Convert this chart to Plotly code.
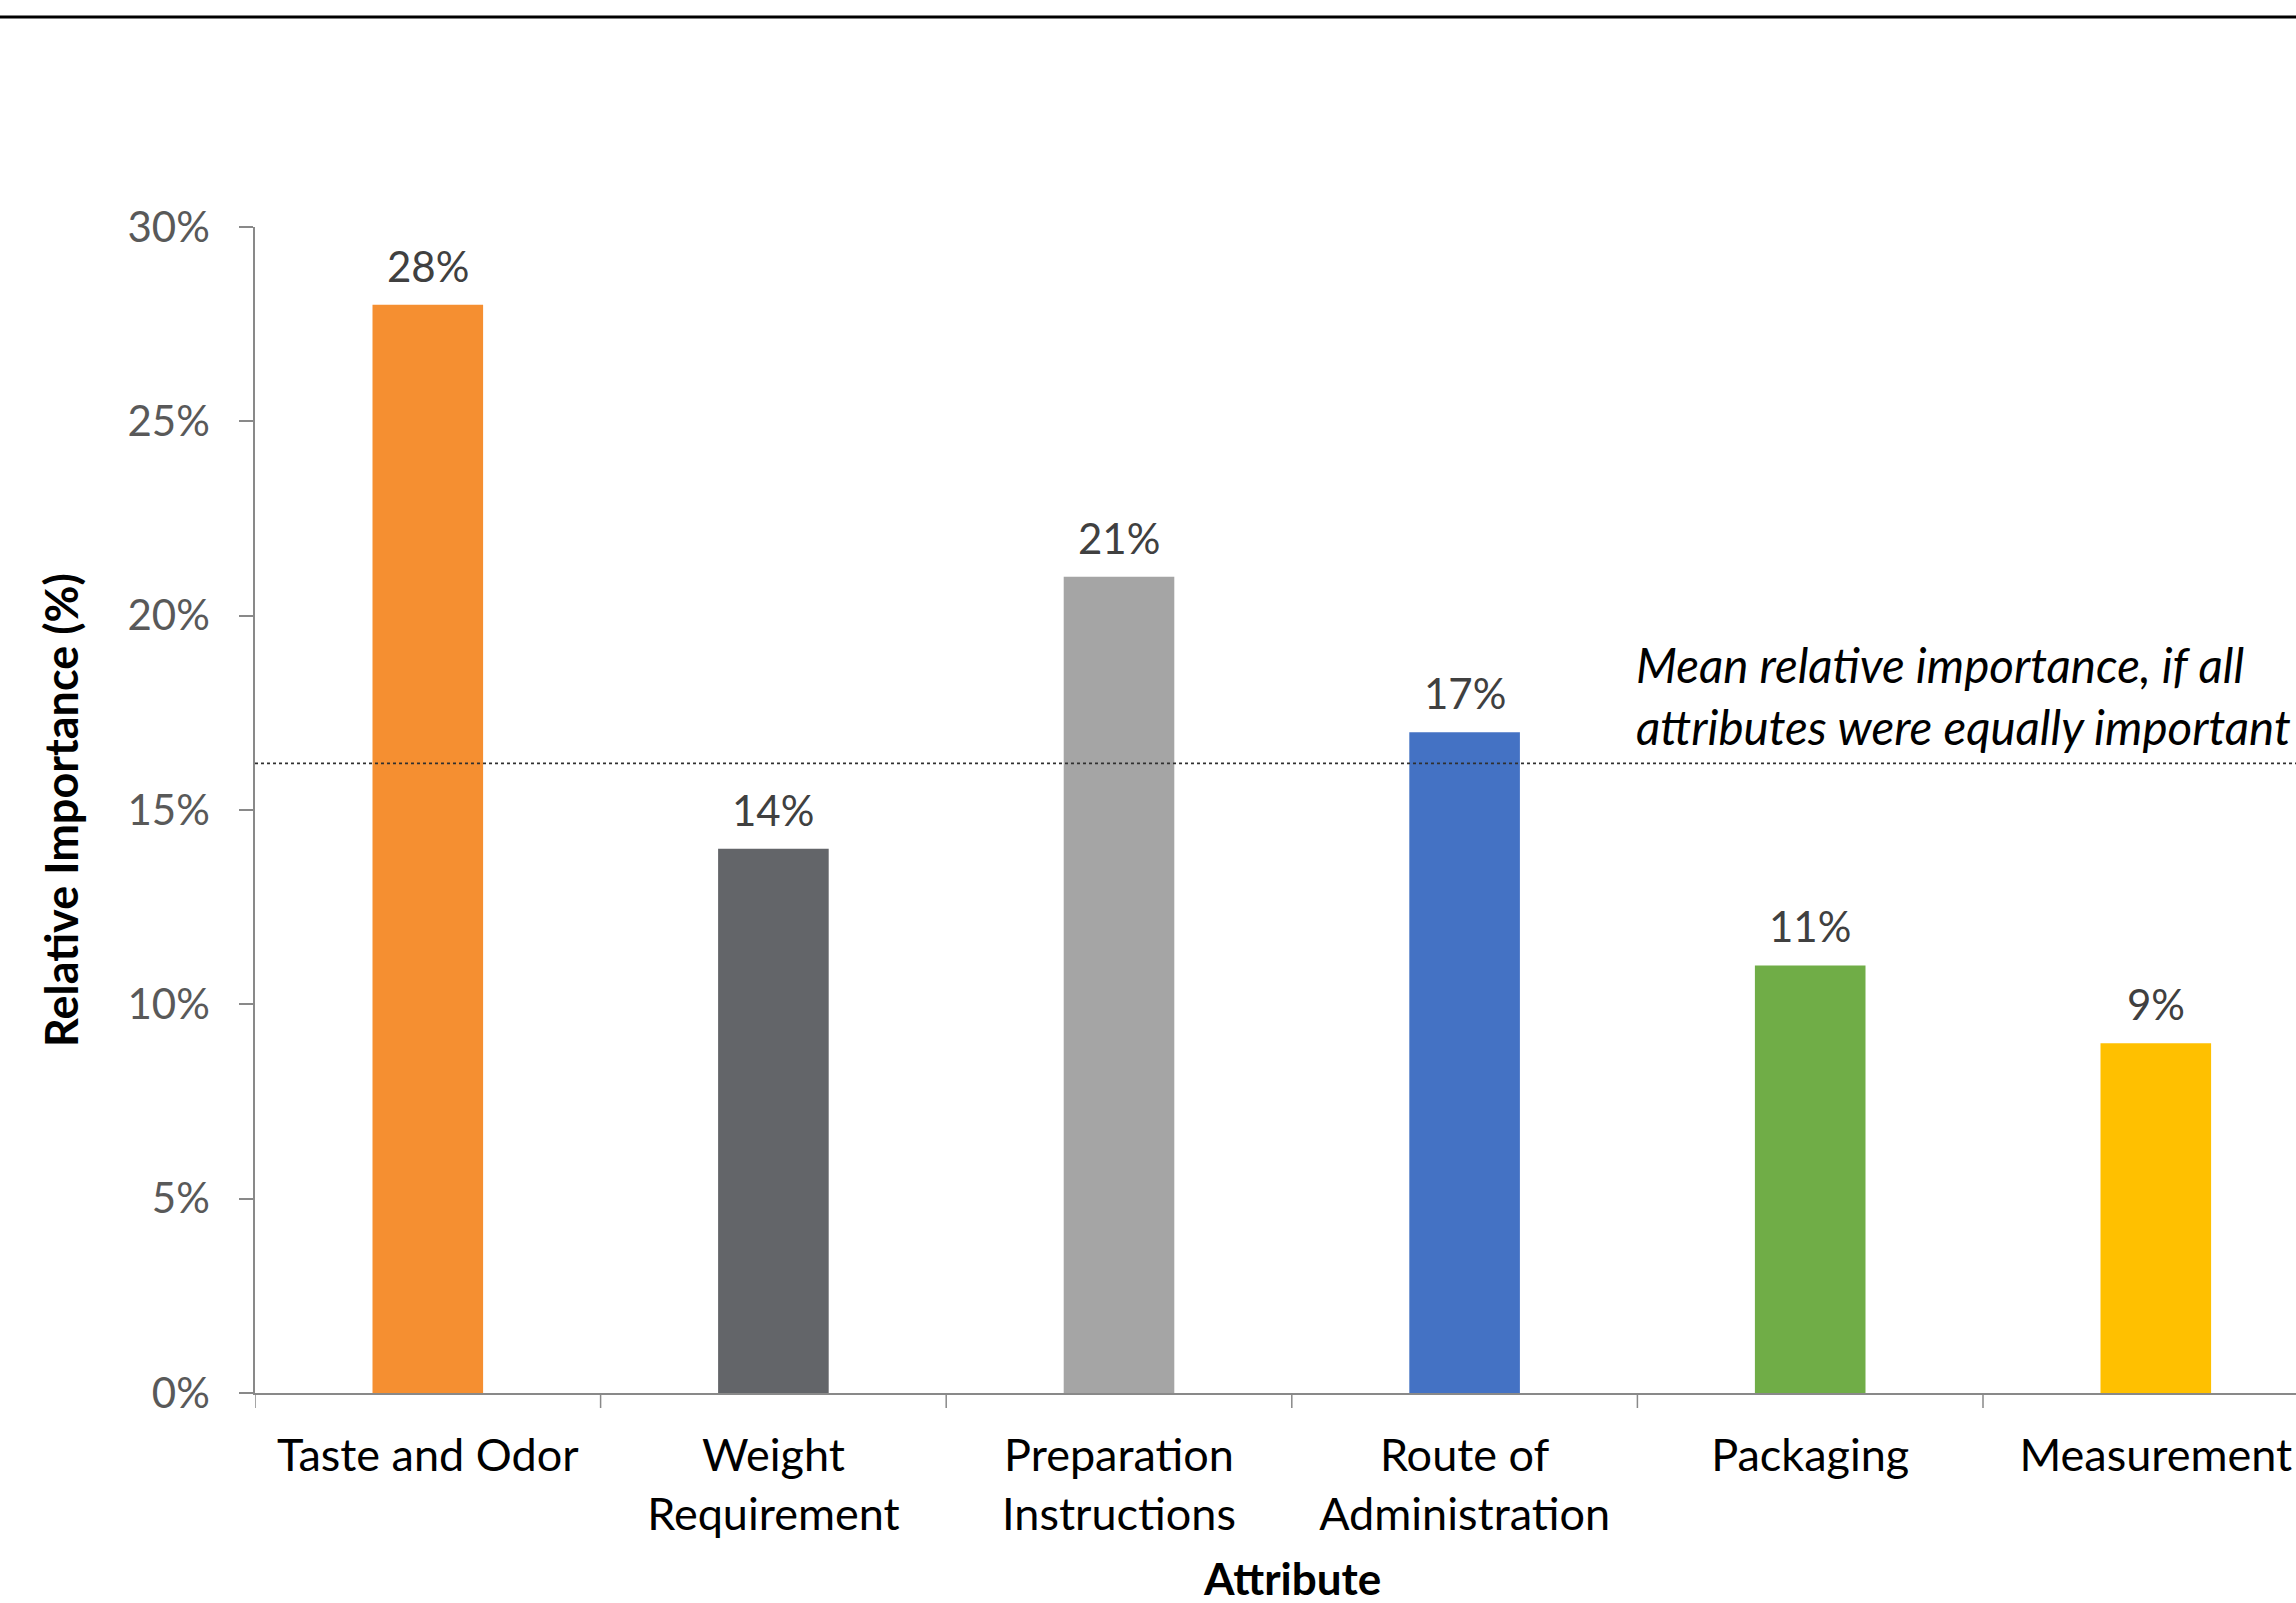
import plotly.graph_objects as go

categories = ["Taste and Odor", "Weight<br>Requirement", "Preparation<br>Instructions",
              "Route of<br>Administration", "Packaging", "Measurement"]
values = [28, 14, 21, 17, 11, 9]
colors = ["#F58F31", "#636569", "#A5A5A5", "#4472C4", "#70AD47", "#FFC000"]
mean_line = 16.2
y_ticks = [0, 5, 10, 15, 20, 25, 30]
y_ticktext = [f"{v}%" for v in y_ticks]
mean_text = "Mean relative importance, if all<br>attributes were equally important"

FONT = "Lato"
W, H = 2296, 1603
L, R, T, B = 255, 0, 227, 210

fig = go.Figure()
fig.add_trace(go.Bar(
    x=list(range(len(categories))), y=values, marker_color=colors, width=0.32,
    marker_line_width=0, showlegend=False, hoverinfo="skip",
))

for i, v in enumerate(values):
    fig.add_annotation(x=i, y=v, text=f"{v}%", showarrow=False, yanchor="middle",
                       yshift=39, font=dict(family=FONT, size=42, color="#404040"))

fig.add_shape(type="line", xref="paper", yref="y", x0=0, x1=1, y0=mean_line, y1=mean_line,
              line=dict(color="#303030", width=1.8, dash="dot"))

fig.add_annotation(xref="paper", yref="y", x=(1634 - L) / (W - L - R), y=17.94,
                   text=mean_text, showarrow=False, xanchor="left", yanchor="middle",
                   align="left", font=dict(family=FONT, size=47.5, color="#000000", style="italic"))

plot_h = H - T - B
plot_w = W - L - R
fig.add_shape(type="line", xref="paper", yref="paper", x0=-L / plot_w, x1=1,
              y0=(H - B - 17) / plot_h, y1=(H - B - 17) / plot_h,
              line=dict(color="#000000", width=3))

# axis titles
fig.add_annotation(xref="x", yref="paper", x=2.5, y=(H - B - 1578) / plot_h, text="<b>Attribute</b>",
                   showarrow=False, xanchor="center", yanchor="middle",
                   font=dict(family=FONT, size=44, color="#000000"))
fig.add_annotation(xref="paper", yref="y", x=(61 - L) / plot_w, y=15, text="<b>Relative Importance (%)</b>",
                   showarrow=False, textangle=-90, xanchor="center", yanchor="middle",
                   font=dict(family=FONT, size=45, color="#000000"))

cat_w = 345.6
fig.update_layout(
    width=W, height=H, margin=dict(l=L, r=R, t=T, b=B),
    paper_bgcolor="white", plot_bgcolor="white",
    xaxis=dict(
        range=[-0.5, -0.5 + plot_w / cat_w], tickmode="array",
        tickvals=list(range(len(categories))), ticktext=categories,
        showline=True, linecolor="#898989", linewidth=2, showgrid=False, zeroline=False,
        ticks="", tickfont=dict(family=FONT, size=45, color="#000000"),
        ticklabelstandoff=22,
    ),
    yaxis=dict(
        range=[0, 30], tickmode="array", tickvals=y_ticks, ticktext=y_ticktext,
        showline=True, linecolor="#898989", linewidth=1.5, showgrid=False, zeroline=False,
        ticks="outside", ticklen=14, tickcolor="#898989", tickwidth=1.5,
        tickfont=dict(family=FONT, size=42, color="#595959"), ticklabelstandoff=21,
    ),
)

# category boundary ticks below the x axis
for k in range(len(categories) + 1):
    xb = k - 0.5
    fig.add_shape(type="line", xref="x", yref="paper", x0=xb, x1=xb, y0=0, y1=-15 / plot_h,
                  line=dict(color="#898989", width=1.5))

fig.write_html("out.html")
